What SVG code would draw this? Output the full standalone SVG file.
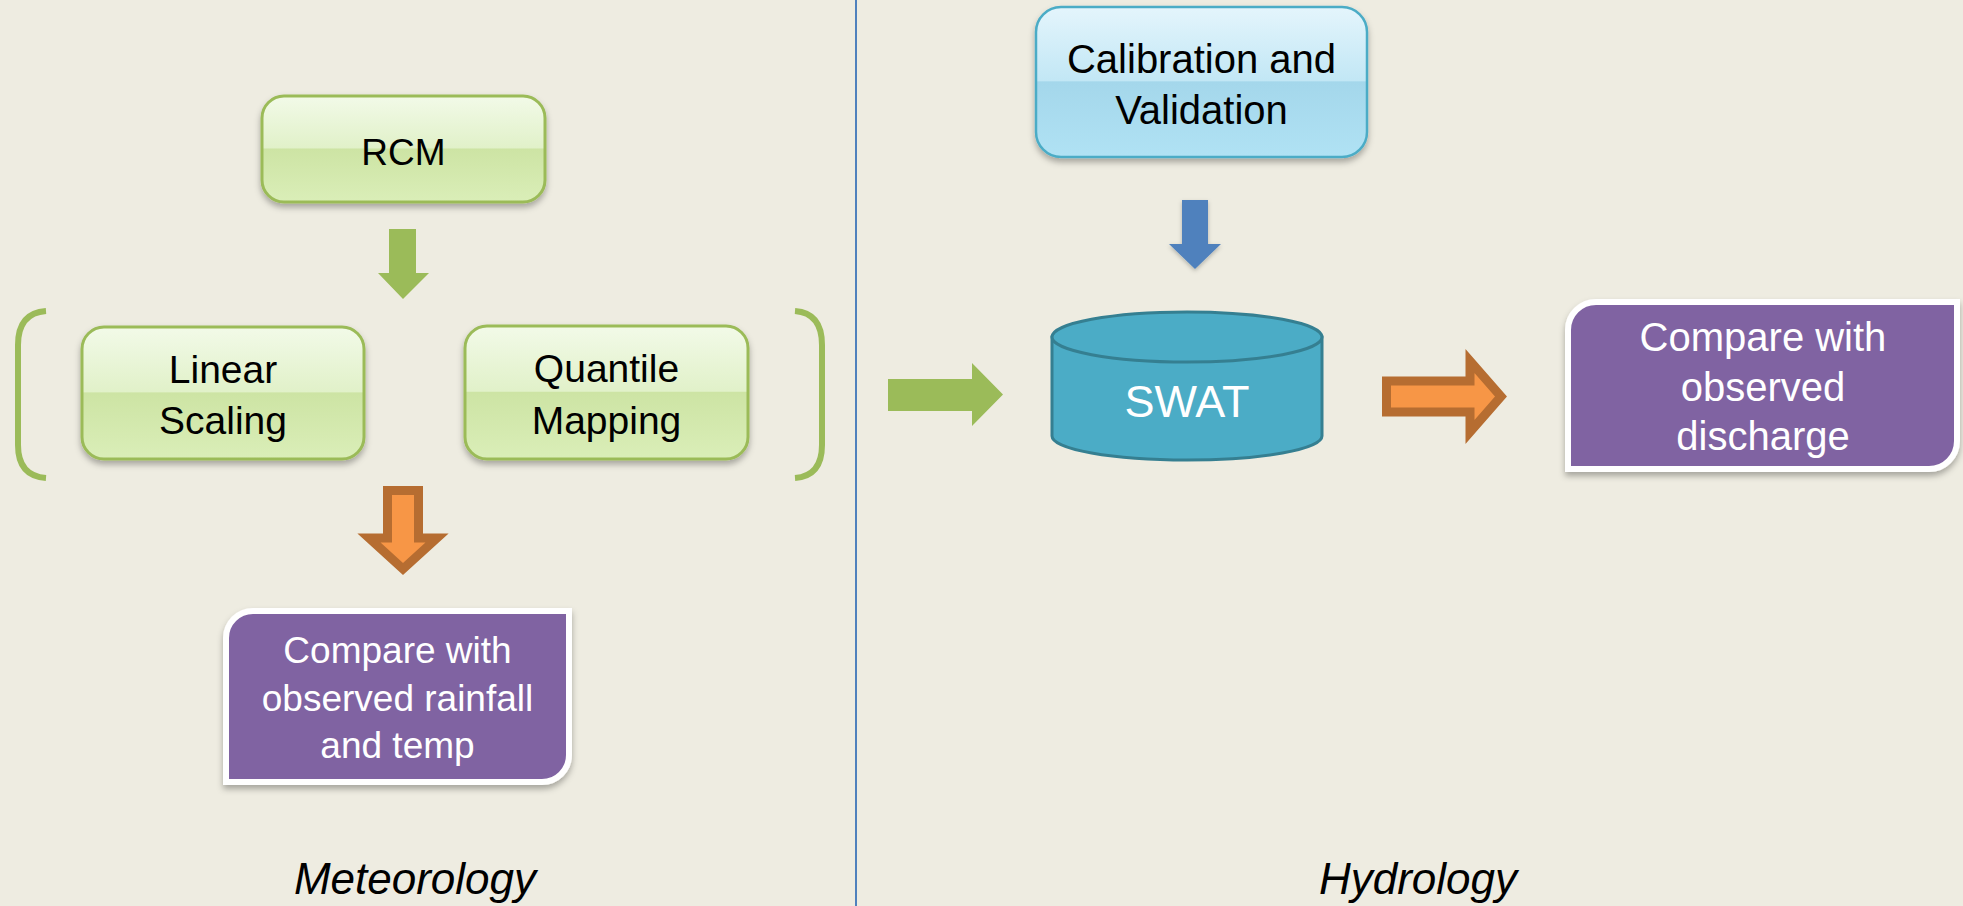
<svg xmlns="http://www.w3.org/2000/svg" width="1963" height="906" viewBox="0 0 1963 906">
  <defs>
    <linearGradient id="gGreen" x1="0" y1="0" x2="0" y2="1">
      <stop offset="0" stop-color="#f2fae8"/>
      <stop offset="0.49" stop-color="#e1f1c9"/>
      <stop offset="0.5" stop-color="#cde4a4"/>
      <stop offset="1" stop-color="#daeeb8"/>
    </linearGradient>
    <linearGradient id="gBlue" x1="0" y1="0" x2="0" y2="1">
      <stop offset="0" stop-color="#e4f5fc"/>
      <stop offset="0.49" stop-color="#c2e7f5"/>
      <stop offset="0.5" stop-color="#a4d7eb"/>
      <stop offset="1" stop-color="#b0e2f4"/>
    </linearGradient>
    <filter id="shadow" x="-10%" y="-10%" width="120%" height="130%">
      <feDropShadow dx="0" dy="4" stdDeviation="3" flood-color="#000" flood-opacity="0.3"/>
    </filter>
    <filter id="shadowS" x="-20%" y="-20%" width="140%" height="140%">
      <feDropShadow dx="0" dy="2" stdDeviation="2" flood-color="#000" flood-opacity="0.25"/>
    </filter>
  </defs>
  <style>
    .txt { font-family: "Liberation Sans", Arial, sans-serif; text-anchor: middle; }
    .dark { fill: #000; }
    .light { fill: #fff; }
    .green-box { fill: url(#gGreen); stroke: #9bbb59; stroke-width: 3; filter: url(#shadow); }
    .blue-box { fill: url(#gBlue); stroke: #4bacc6; stroke-width: 2.5; filter: url(#shadow); }
    .purple-box { fill: #8064a2; stroke: #fff; stroke-width: 6; filter: url(#shadow); }
    .label { font-family: "Liberation Sans", Arial, sans-serif; font-style: italic; font-size: 44px; fill: #000; text-anchor: middle; }
    .bracket { fill: none; stroke: #9bbb59; stroke-width: 6; }
    .arrow-green { fill: #9bbb59; }
    .arrow-blue { fill: #4f81bd; filter: url(#shadowS); }
    .arrow-orange { fill: #f79646; stroke: #b66d31; stroke-width: 9; stroke-linejoin: miter; }
  </style>

  <rect x="0" y="0" width="1963" height="906" fill="#eeece1"/>

  <line x1="856" y1="0" x2="856" y2="906" stroke="#4f81bd" stroke-width="2"/>

  <g id="brackets">
    <path class="bracket" d="M46,311 Q18,313 18,345 L18,445 Q18,476 46,478"/>
    <path class="bracket" d="M795,311 Q822,313 822,345 L822,445 Q822,476 795,478"/>
  </g>

  <g id="node-rcm">
    <rect class="green-box" x="262" y="96" width="283" height="106" rx="22" ry="22"/>
    <text class="txt dark" x="403.5" y="165" font-size="37">RCM</text>
  </g>

  <g id="node-linear-scaling">
    <rect class="green-box" x="82" y="327" width="282" height="132" rx="22" ry="22"/>
    <text class="txt dark" x="223" y="383" font-size="39">Linear</text>
    <text class="txt dark" x="223" y="434" font-size="39">Scaling</text>
  </g>

  <g id="node-quantile-mapping">
    <rect class="green-box" x="465" y="326" width="283" height="133" rx="22" ry="22"/>
    <text class="txt dark" x="606.5" y="382" font-size="39">Quantile</text>
    <text class="txt dark" x="606.5" y="434" font-size="39">Mapping</text>
  </g>

  <g id="node-compare-rainfall">
    <path class="purple-box" d="M253,611 L569,611 L569,755 A27,27 0 0 1 542,782 L226,782 L226,638 A27,27 0 0 1 253,611 Z"/>
    <text class="txt light" x="397.5" y="663" font-size="37">Compare with</text>
    <text class="txt light" x="397.5" y="711" font-size="37">observed rainfall</text>
    <text class="txt light" x="397.5" y="758" font-size="37">and temp</text>
  </g>

  <g id="node-calibration">
    <rect class="blue-box" x="1036" y="7" width="331" height="150" rx="25" ry="25"/>
    <text class="txt dark" x="1201.5" y="73" font-size="40">Calibration and</text>
    <text class="txt dark" x="1201.5" y="124" font-size="40">Validation</text>
  </g>

  <g id="node-swat">
    <path d="M1052,337 L1052,436 A135,24 0 0 0 1322,436 L1322,337 Z" fill="#4bacc6" stroke="#357f91" stroke-width="3"/>
    <ellipse cx="1187" cy="337" rx="135" ry="25" fill="#4bacc6" stroke="#357f91" stroke-width="3"/>
    <text class="txt light" x="1187" y="417" font-size="45">SWAT</text>
  </g>

  <g id="node-compare-discharge">
    <path class="purple-box" d="M1596,302 L1957,302 L1957,441 A28,28 0 0 1 1929,469 L1568,469 L1568,330 A28,28 0 0 1 1596,302 Z"/>
    <text class="txt light" x="1763" y="351" font-size="40">Compare with</text>
    <text class="txt light" x="1763" y="401" font-size="40">observed</text>
    <text class="txt light" x="1763" y="450" font-size="40">discharge</text>
  </g>

  <g id="connectors">
    <polygon class="arrow-green" points="389,229 416,229 416,273 429,273 403,299 378,273 389,273"/>
    <polygon class="arrow-orange" points="387.5,490.5 418.5,490.5 418.5,538 437,538 403,569 369,538 387.5,538"/>
    <polygon class="arrow-green" points="888,379 972,379 972,363 1003,394.5 972,426 972,411 888,411"/>
    <polygon class="arrow-blue" points="1182,200 1208,200 1208,244 1221,244 1195,269 1169,244 1182,244"/>
    <polygon class="arrow-orange" points="1386.5,381 1470,381 1470,361 1501,396.5 1470,432 1470,412 1386.5,412"/>
  </g>

  <g id="labels">
    <text class="label" x="415" y="894">Meteorology</text>
    <text class="label" x="1418" y="894">Hydrology</text>
  </g>
</svg>
